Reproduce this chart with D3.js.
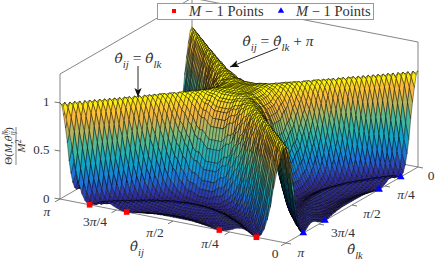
<!DOCTYPE html>
<html>
<head>
<meta charset="utf-8">
<script src="https://cdn.jsdelivr.net/npm/d3@7"></script>
<style>
  html, body { margin: 0; padding: 0; background: #fff; }
  text { font-family: "Liberation Serif", serif; fill: #333; }
</style>
</head>
<body>
<div id="chart"></div>
<script>
// normalised pattern, read in thousandths, one quarter of the surface (2.5 degree steps),
// row i holds columns 0..i, the other quarters repeat it
const patternRows = [
  [1000],
  [968,1000],
  [849,950,1000],
  [707,849,968,1000],
  [543,707,879,968,1000],
  [340,501,707,849,950,1000],
  [201,340,543,707,849,968,1000],
  [97,201,380,543,707,879,968,1000],
  [32,97,233,380,543,746,879,968,1000],
  [3,32,120,233,380,585,746,879,968,1000],
  [3,3,45,120,233,419,585,746,879,968,1000],
  [19,3,8,45,120,267,419,585,746,879,968,1000],
  [40,19,1,8,45,144,267,419,585,746,879,968,1000],
  [56,40,14,1,8,59,144,267,419,585,746,879,968,1000],
  [62,53,30,9,0,22,78,172,303,460,627,782,905,980,1000],
  [59,62,49,30,9,1,22,78,172,303,460,627,782,905,968,1000],
  [51,61,59,45,24,3,3,32,97,201,340,501,668,818,905,980,1000],
  [34,51,62,59,45,19,3,3,32,97,201,340,501,668,782,905,968,1000],
  [21,38,57,62,56,35,14,1,8,45,120,233,380,543,668,818,905,980,1000],
  [10,25,47,59,62,49,30,9,0,13,59,144,267,419,543,707,818,930,980,1000],
  [2,13,34,51,61,59,45,24,6,1,22,78,172,303,419,585,707,849,930,980,1000],
  [0,7,25,43,57,62,53,35,14,1,8,45,120,233,340,501,627,782,879,950,990,1000],
  [1,1,13,29,47,61,61,49,30,9,0,13,59,144,233,380,501,668,782,879,950,980,1000],
  [4,0,7,21,38,57,62,56,40,19,3,3,32,97,172,303,419,585,707,818,905,950,990,1000],
  [11,2,1,10,25,47,59,62,53,35,14,1,8,45,97,201,303,460,585,707,818,879,950,980,1000],
  [17,6,0,4,17,38,54,62,59,45,24,6,1,22,59,144,233,380,501,627,746,818,905,950,990,1000],
  [23,11,1,1,10,29,47,59,62,53,35,14,1,8,32,97,172,303,419,543,668,746,849,905,968,990,1000],
  [27,14,2,0,7,25,43,57,62,56,40,19,3,3,22,78,144,267,380,501,627,707,818,879,950,980,995,1000],
  [32,20,6,0,2,17,34,51,61,61,49,30,9,0,8,45,97,201,303,419,543,627,746,818,905,950,980,990,1000],
  [34,23,9,1,1,13,29,47,59,62,53,35,14,1,3,32,78,172,267,380,501,585,707,782,879,930,968,980,995,1000],
  [38,30,14,4,0,7,21,38,54,62,59,45,24,6,0,13,45,120,201,303,419,501,627,707,818,879,930,950,980,990,1000],
  [39,32,17,6,0,4,17,34,51,61,61,49,30,9,1,8,32,97,172,267,380,460,585,668,782,849,905,930,968,980,995,1000],
  [39,32,17,6,0,4,17,34,51,61,61,49,30,9,1,8,32,97,172,267,380,460,585,668,782,849,905,930,968,980,995,1000,1000],
  [40,34,20,9,1,2,13,29,47,59,62,53,35,14,3,3,22,78,144,233,340,419,543,627,746,818,879,905,950,968,990,995,995,1000],
  [40,36,23,11,2,1,10,25,43,57,62,56,40,19,6,1,13,59,120,201,303,380,501,585,707,782,849,879,930,950,980,990,990,995,1000],
  [40,36,23,11,2,1,10,25,43,57,62,56,40,19,6,1,13,59,120,201,303,380,501,585,707,782,849,879,930,950,980,990,990,995,1000,1000],
  [40,36,23,11,2,1,10,25,43,57,62,56,40,19,6,1,13,59,120,201,303,380,501,585,707,782,849,879,930,950,980,990,990,995,1000,1000,1000]
];
const gridStepsPerQuarter = 36;

// zero positions on the two front edges, in units of pi
const redPoints = [0.131, 0.295, 0.705, 0.869];
const bluePoints = [0.131, 0.295, 0.705, 0.869];

const angleTicks = [0, 0.25, 0.5, 0.75, 1];
const ijTickLabels = ["0", "π/4", "π/2", "3π/4", "π"];
const lkTickLabels = ["0", "π/4", "π/2", "3π/4", "π"];
const zTicks = [0, 0.5, 1];
const zTickLabels = ["0", "0.5", "1"];

const colorStops = [0, 0.08, 0.2, 0.35, 0.5, 0.65, 0.75, 0.85, 0.93, 1];
const colorValues = ["#2a1f7c", "#2f35a8", "#1f6fd6", "#0f9fcf", "#2fb5a8", "#8fbb72", "#d8b050", "#fbb93a", "#fde020", "#ffff00"];

const WIDTH = 436, HEIGHT = 262;

const svg = d3.select("#chart").append("svg")
  .attr("width", WIDTH)
  .attr("height", HEIGHT)
  .style("display", "block");

// oblique projection, the front corner (ij = 0, lk = pi, z = 0) is the anchor
const ORIGIN = [286, 243];
const ijX = d3.scaleLinear().domain([0, 1]).range([0, -226]);
const ijY = d3.scaleLinear().domain([0, 1]).range([0, -44]);
const lkX = d3.scaleLinear().domain([1, 0]).range([0, 132]);
const lkY = d3.scaleLinear().domain([1, 0]).range([0, -76]);
const zY = d3.scaleLinear().domain([0, 1.3]).range([0, -125]);
const color = d3.scaleLinear().domain(colorStops).range(colorValues).clamp(true);

function project(ij, lk, z){
  return [ORIGIN[0] + ijX(ij) + lkX(lk), ORIGIN[1] + ijY(ij) + lkY(lk) + zY(z)];
}

function patternValue(i, j){
  let n = gridStepsPerQuarter;
  let a = i <= n ? i : 2 * n - i;
  let b = j <= n ? j : 2 * n - j;
  return patternRows[Math.max(a, b)][Math.min(a, b)] / 1000;
}

// box behind the surface
const boxLines = [
  [[1, 1, 0], [1, 0, 0]], [[1, 0, 0], [0, 0, 0]],
  [[1, 1, 0], [1, 1, 1.3]], [[0, 0, 0], [0, 0, 1.3]], [[1, 0, 0], [1, 0, 1.3]],
  [[1, 1, 1.3], [1, 0, 1.3]], [[1, 0, 1.3], [0, 0, 1.3]],
  [[1, 1, 0], [0, 1, 0]], [[0, 1, 0], [0, 0, 0]]
];
svg.append("g").selectAll("line").data(boxLines).join("line")
  .attr("x1", d => project(...d[0])[0])
  .attr("y1", d => project(...d[0])[1])
  .attr("x2", d => project(...d[1])[0])
  .attr("y2", d => project(...d[1])[1])
  .attr("stroke", "#666").attr("stroke-width", 0.8);

// ticks
let tickG = svg.append("g").attr("stroke", "#555").attr("stroke-width", 0.8);
angleTicks.forEach(t => {
  let p = project(t, 1, 0);
  tickG.append("line").attr("x1", p[0]).attr("y1", p[1]).attr("x2", p[0] - 5).attr("y2", p[1] + 2.8);
  let q = project(0, t, 0);
  tickG.append("line").attr("x1", q[0]).attr("y1", q[1]).attr("x2", q[0] + 5).attr("y2", q[1] + 1);
});
zTicks.forEach(t => {
  let p = project(1, 1, t);
  tickG.append("line").attr("x1", p[0]).attr("y1", p[1]).attr("x2", p[0] - 5.5).attr("y2", p[1] - 0.8);
});

// surface cells, far corner first so nearer cells paint over
let cells = [];
let n = 2 * gridStepsPerQuarter;
for ( let i = n - 1; i >= 0; i-- ){
  for ( let j = 0; j < n; j++ ){
    let corners = [[i, j], [i + 1, j], [i + 1, j + 1], [i, j + 1]]
      .map(c => ({ ij: c[0] / n, lk: c[1] / n, z: patternValue(c[0], c[1]) }));
    cells.push(corners);
  }
}
svg.append("g").selectAll("path").data(cells).join("path")
  .attr("d", d => "M" + d.map(c => project(c.ij, c.lk, c.z).join(",")).join("L") + "Z")
  .attr("fill", d => color(d3.mean(d, c => c.z)))
  .attr("stroke", "#000")
  .attr("stroke-width", 0.4)
  .attr("stroke-linejoin", "round");

// markers
svg.append("g").selectAll("rect").data(redPoints).join("rect")
  .attr("x", d => project(d, 1, 0)[0] - 2.8)
  .attr("y", d => project(d, 1, 0)[1] - 2.8)
  .attr("width", 5.6).attr("height", 5.6)
  .attr("fill", "#f00");
const triangle = d3.symbol(d3.symbolTriangle).size(26);
svg.append("g").selectAll("path").data(bluePoints).join("path")
  .attr("d", triangle)
  .attr("transform", d => "translate(" + project(0, d, 0).join(",") + ")")
  .attr("fill", "#00f");

const THETA_HAT = "θ\u0302";

/**
 * Write a piece of maths into a text element
 * parts: [string, "i" for italic, "sub" or "sup" or nothing, dx in em]
 */
function mathText(x, y, parts, size, anchor, rotate){
  let t = svg.append("text")
    .attr("text-anchor", anchor || "middle")
    .attr("font-size", size);
  if ( rotate ){
    t.attr("transform", "translate(" + x + "," + y + ") rotate(" + rotate + ")");
  }else{
    t.attr("x", x).attr("y", y);
  }
  let shift = 0;
  parts.forEach(p => {
    let target = p[2] === "sub" ? size * 0.3 : p[2] === "sup" ? -size * 0.4 : 0;
    let span = t.append("tspan")
      .attr("dx", (p[3] || 0) * size)
      .attr("dy", target - shift)
      .attr("font-style", p[1] === "i" ? "italic" : "normal")
      .attr("font-size", p[2] ? size * 0.7 : size)
      .text(p[0]);
    // the hat only sits right over the theta in DejaVu
    if ( p[0] === THETA_HAT ){
      span.style("font-family", "'DejaVu Serif'").attr("font-style", "italic").attr("font-size", size * 0.88);
    }
    shift = target;
  });
  return t;
}

// pi goes in italics, like the rest of the maths
function tickParts(label){
  return label.split(/(π)/).filter(s => s.length).map(s => [s, s === "π" ? "i" : ""]);
}

// tick labels
const ijLabelPos = [[275, 258], [210, 248], [155, 237], [95, 226], [47, 216]];
ijTickLabels.forEach((d, i) => mathText(ijLabelPos[i][0], ijLabelPos[i][1], tickParts(d), 13.5));
const lkLabelPos = [[431, 180], [406, 199], [372, 218], [343, 237], [301, 257]];
lkTickLabels.forEach((d, i) => mathText(lkLabelPos[i][0], lkLabelPos[i][1], tickParts(d), 13.5));
zTickLabels.forEach((d, i) => mathText(49.5, project(1, 1, zTicks[i])[1] + 3.5, [[d, ""]], 13, "end"));

// axis titles
mathText(137, 251, [[THETA_HAT, ""], ["ij", "i", "sub"]], 15);
mathText(355, 254, [[THETA_HAT, ""], ["lk", "i", "sub"]], 15);

// z title, a rotated fraction
mathText(12, 146, [["Θ(", ""], ["M", "i"], [",", ""], [THETA_HAT, ""], ["lk", "i", "sup"], ["ij", "i", "sub", -0.5], [")", ""]], 11, "middle", -90);
svg.append("line").attr("x1", 16).attr("x2", 16).attr("y1", 127).attr("y2", 165).attr("stroke", "#333").attr("stroke-width", 0.6);
mathText(25, 146, [["M", "i"], ["2", "", "sup"]], 11, "middle", -90);

// annotations
svg.append("defs").append("marker")
  .attr("id", "head")
  .attr("viewBox", "0 0 10 8")
  .attr("refX", 10).attr("refY", 4)
  .attr("markerWidth", 9).attr("markerHeight", 7.5)
  .attr("markerUnits", "userSpaceOnUse")
  .attr("orient", "auto")
  .append("path").attr("d", "M0,0 L10,4 L0,8 L2.5,4 Z").attr("fill", "#111");

mathText(138, 63, [[THETA_HAT, ""], ["ij", "i", "sub"], [" = ", ""], [THETA_HAT, ""], ["lk", "i", "sub"]], 15.5);
svg.append("line").attr("x1", 138).attr("y1", 66).attr("x2", 138).attr("y2", 97)
  .attr("stroke", "#111").attr("stroke-width", 0.9).attr("marker-end", "url(#head)");

mathText(278, 46, [[THETA_HAT, ""], ["ij", "i", "sub"], [" = ", ""], [THETA_HAT, ""], ["lk", "i", "sub"], [" + ", ""], ["π", "i"]], 15.5);
svg.append("line").attr("x1", 278).attr("y1", 48).attr("x2", 230).attr("y2", 67)
  .attr("stroke", "#111").attr("stroke-width", 0.9).attr("marker-end", "url(#head)");

// legend
svg.append("rect").attr("x", 157.5).attr("y", 3.5).attr("width", 216).attr("height", 16)
  .attr("fill", "#fff").attr("stroke", "#999").attr("stroke-width", 1);
svg.append("rect").attr("x", 172).attr("y", 9).attr("width", 4).attr("height", 4).attr("fill", "#f00");
svg.append("path").attr("d", d3.symbol(d3.symbolTriangle).size(18))
  .attr("transform", "translate(281,11)").attr("fill", "#00f");
mathText(189, 15.5, [["M", "i"], [" − 1 Points", ""]], 14.5, "start");
mathText(296, 15.5, [["M", "i"], [" − 1 Points", ""]], 14.5, "start");
</script>
</body>
</html>
